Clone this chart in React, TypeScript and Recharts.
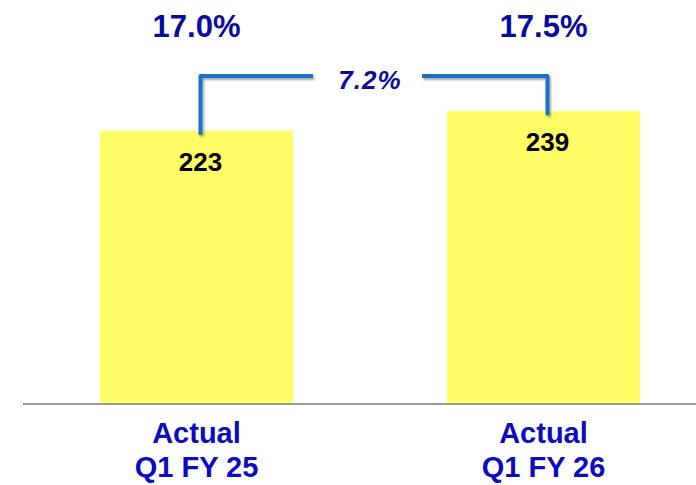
import React from 'react';
import { BarChart, Bar, XAxis, YAxis, LabelList } from 'recharts';

// ---- data ----
const categories = ['Actual Q1 FY 25', 'Actual Q1 FY 26'];
const categoryLines = [
  ['Actual', 'Q1 FY 25'],
  ['Actual', 'Q1 FY 26'],
];
const values = [223, 239];
const marginLabels = ['17.0%', '17.5%'];
const growthLabel = '7.2%';
const yDomain = [0, 320];

const data = categories.map((name, i) => ({ name, value: values[i] }));

// ---- layout / style ----
const CHART_W = 717;
const CHART_H = 485;
const MARGIN = { top: 12, right: 0, bottom: 0, left: 23 };
const XAXIS_H = 81;
const AXIS_Y = CHART_H - XAXIS_H;
const BAND = (CHART_W - MARGIN.left - MARGIN.right) / categories.length;
const FONT = '"Liberation Sans", Arial, Helvetica, sans-serif';
const DARK_BLUE = '#0a0a9e';
const AXIS_BLUE = '#0b0bc2';
const CONNECTOR = '#1c6fc6';
const CONNECTOR_Y = 76;
const PCT_BASELINE = 37;
const SHIFT = 4;

const ValueLabel = (props: any) => {
  const { x, y, width, value, index } = props;
  const cx = Number(x) + Number(width) / 2;
  return (
    <g>
      <text
        x={cx}
        y={PCT_BASELINE}
        textAnchor="middle"
        fontFamily={FONT}
        fontWeight="bold"
        fontSize={31}
        fill={DARK_BLUE}
      >
        {marginLabels[index]}
      </text>
      <text
        x={cx + SHIFT}
        y={Number(y) + 40}
        textAnchor="middle"
        fontFamily={FONT}
        fontWeight="bold"
        fontSize={26}
        fill="#000"
      >
        {value}
      </text>
    </g>
  );
};

const ConnectorLabel = (props: any) => {
  const { x, y, width, index } = props;
  const cx = Number(x) + Number(width) / 2;
  const top = Number(y);
  const vx = cx + SHIFT;
  if (index === 0) {
    const mid = cx + BAND / 2;
    return (
      <g>
        <defs>
          <filter id="connShadow" x="-20%" y="-20%" width="140%" height="140%">
            <feDropShadow dx="1.5" dy="2" stdDeviation="1.2" floodColor="#000" floodOpacity="0.35" />
          </filter>
        </defs>
        <path
          d={`M${vx},${top + 4} V${CONNECTOR_Y} H${mid - 57}`}
          fill="none"
          stroke={CONNECTOR}
          strokeWidth={4}
          strokeLinejoin="round"
          filter="url(#connShadow)"
        />
        <text
          x={mid}
          y={89}
          textAnchor="middle"
          fontFamily={FONT}
          fontWeight="bold"
          fontStyle="italic"
          fontSize={26}
          letterSpacing={1}
          fill={DARK_BLUE}
        >
          {growthLabel}
        </text>
      </g>
    );
  }
  const mid = cx - BAND / 2;
  return (
    <path
      d={`M${mid + 52},${CONNECTOR_Y} H${vx} V${top + 4}`}
      fill="none"
      stroke={CONNECTOR}
      strokeWidth={4}
      strokeLinejoin="round"
      filter="url(#connShadow)"
    />
  );
};

const CategoryTick = (props: any) => {
  const { x, payload } = props;
  const idx = categories.indexOf(payload.value);
  const lines = categoryLines[idx] || [String(payload.value)];
  return (
    <g>
      {lines.map((line, i) => (
        <text
          key={i}
          x={x}
          y={AXIS_Y + 39 + i * 34}
          textAnchor="middle"
          fontFamily={FONT}
          fontWeight="bold"
          fontSize={29}
          fill={AXIS_BLUE}
        >
          {line}
        </text>
      ))}
    </g>
  );
};

export default function App() {
  return (
    <div
      style={{
        position: 'absolute',
        left: 0,
        top: 0,
        width: 696,
        height: 485,
        overflow: 'hidden',
        background: '#fff',
      }}
    >
      <BarChart width={CHART_W} height={CHART_H} data={data} margin={MARGIN}>
        <XAxis
          dataKey="name"
          height={XAXIS_H}
          axisLine={{ stroke: '#9a9a9a', strokeWidth: 2 }}
          tickLine={false}
          tick={<CategoryTick />}
          interval={0}
        />
        <YAxis hide domain={yDomain} />
        <Bar dataKey="value" fill="#ffff66" barSize={193} isAnimationActive={false}>
          <LabelList dataKey="value" content={<ValueLabel />} />
          <LabelList dataKey="value" content={<ConnectorLabel />} />
        </Bar>
      </BarChart>
    </div>
  );
}
